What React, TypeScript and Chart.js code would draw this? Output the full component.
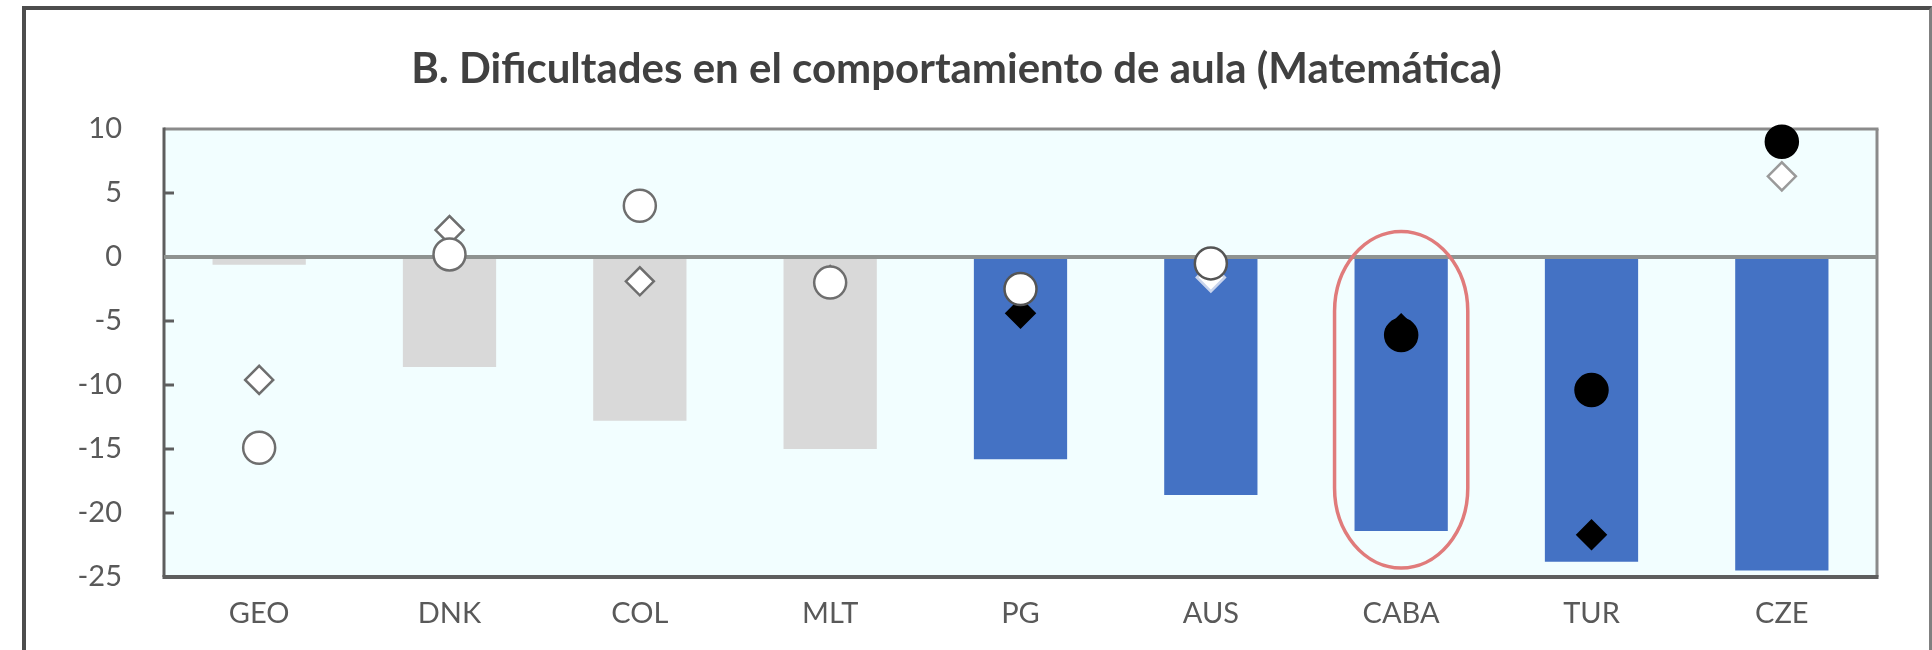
import React, { useEffect, useRef } from "react";
import { Chart, registerables } from "chart.js";

Chart.register(...registerables);

// ---------- data ----------
const categories = ["GEO", "DNK", "COL", "MLT", "PG", "AUS", "CABA", "TUR", "CZE"];
const barValues = [-0.6, -8.6, -12.8, -15.0, -15.8, -18.6, -21.4, -23.8, -24.5];
const barHighlighted = [false, false, false, false, true, true, true, true, true];
const circleValues = [-14.9, 0.2, 4.0, -2.0, -2.5, -0.5, -6.1, -10.4, 9.0];
const circleSignificant = [false, false, false, false, false, false, true, true, true];
const diamondValues = [-9.6, 2.1, -1.9, -1.8, -4.4, -1.6, -5.6, -21.7, 6.3];
const diamondSignificant = [false, false, false, false, true, false, true, true, false];
const yTickValues = [10, 5, 0, -5, -10, -15, -20, -25];
const titleText = "B. Dificultades en el comportamiento de aula (Matemática)";
const highlightCategory = "CABA";
const highlightTop = 2.0;
const highlightBottom = -24.3;

// ---------- styles ----------
const FONT = "Lato, 'Open Sans', sans-serif";
const GRAY_BAR = "#D9D9D9";
const BLUE_BAR = "#4472C4";
const PLOT_BG = "#F2FEFF";

const barColors = barHighlighted.map((h) => (h ? BLUE_BAR : GRAY_BAR));

const markerBorder = (sig: boolean, i: number, v: number) => {
  if (sig) return "#000000";
  if (barHighlighted[i] && v < 0) return "#c9d4ec";
  if (barHighlighted[i]) return "#9a9a9a";
  return "#6e6e6e";
};

const circleFill = circleSignificant.map((s) => (s ? "#000000" : "#FFFFFF"));
const circleBorder = circleSignificant.map((s, i) =>
  s ? "#000000" : barHighlighted[i] && circleValues[i] < 0 ? "#555555" : "#6e6e6e"
);
const diamondFill = diamondSignificant.map((s) => (s ? "#000000" : "#FFFFFF"));
const diamondBorder = diamondSignificant.map((s, i) => markerBorder(s, i, diamondValues[i]));

const plotDecor = {
  id: "plotDecor",
  beforeDatasetsDraw(chart: any) {
    const { ctx, chartArea: a, scales } = chart;
    const y = scales.y;
    const line = (x1: number, y1: number, x2: number, y2: number) => {
      ctx.beginPath();
      ctx.moveTo(x1, y1);
      ctx.lineTo(x2, y2);
      ctx.stroke();
    };
    ctx.save();
    ctx.fillStyle = PLOT_BG;
    ctx.fillRect(a.left, a.top, a.right - a.left, a.bottom - a.top);
    ctx.strokeStyle = "#8b8b8b";
    ctx.lineWidth = 3;
    line(a.left, a.top, a.right + 1.5, a.top);
    line(a.right, a.top, a.right, a.bottom);
    ctx.strokeStyle = "#5e5e5e";
    line(a.left, a.top - 1.5, a.left, a.bottom);
    ctx.lineWidth = 4;
    line(a.left - 1.5, a.bottom, a.right + 1.5, a.bottom);
    ctx.lineWidth = 3;
    y.ticks.forEach((t: any) => {
      if (t.value > y.min && t.value < y.max && t.value !== 0) {
        const py = y.getPixelForValue(t.value);
        line(a.left, py, a.left + 10, py);
      }
    });
    ctx.restore();
  },
  afterDatasetDraw(chart: any, args: any) {
    if (args.index !== 0) return;
    const { ctx, chartArea: a, scales } = chart;
    const py = scales.y.getPixelForValue(0);
    ctx.save();
    ctx.strokeStyle = "#8f9391";
    ctx.lineWidth = 4;
    ctx.beginPath();
    ctx.moveTo(a.left, py);
    ctx.lineTo(a.right, py);
    ctx.stroke();
    ctx.restore();
  },
  afterDatasetsDraw(chart: any) {
    const { ctx, scales } = chart;
    const x = scales.x;
    const y = scales.y;
    const idx = categories.indexOf(highlightCategory);
    const cx = x.getPixelForValue(idx);
    const catW = x.getPixelForValue(1) - x.getPixelForValue(0);
    const rx = catW * 0.35;
    const top = y.getPixelForValue(highlightTop);
    const bottom = y.getPixelForValue(highlightBottom);
    const ry = rx * 1.2;
    ctx.save();
    ctx.strokeStyle = "#E07B7B";
    ctx.lineWidth = 3.5;
    ctx.beginPath();
    ctx.ellipse(cx, top + ry, rx, ry, 0, Math.PI, 2 * Math.PI);
    ctx.lineTo(cx + rx, bottom - ry);
    ctx.ellipse(cx, bottom - ry, rx, ry, 0, 0, Math.PI);
    ctx.closePath();
    ctx.stroke();
    ctx.restore();
  },
};

export default function App() {
  const ref = useRef<HTMLCanvasElement>(null);

  useEffect(() => {
    const chart = new Chart(ref.current as HTMLCanvasElement, {
      type: "bar",
      data: {
        labels: categories,
        datasets: [
          {
            type: "bar",
            label: "Diferencia",
            data: barValues,
            backgroundColor: barColors,
            borderWidth: 0,
            barPercentage: 0.49,
            categoryPercentage: 1,
            order: 3,
          } as any,
          {
            type: "line",
            label: "Serie rombo",
            data: diamondValues,
            showLine: false,
            pointStyle: "rectRot",
            pointRadius: 14,
            pointBorderWidth: 2.5,
            pointBackgroundColor: diamondFill,
            pointBorderColor: diamondBorder,
            clip: false,
            order: 2,
          } as any,
          {
            type: "line",
            label: "Serie círculo",
            data: circleValues,
            showLine: false,
            pointStyle: "circle",
            pointRadius: 16,
            pointBorderWidth: 2.5,
            pointBackgroundColor: circleFill,
            pointBorderColor: circleBorder,
            clip: false,
            order: 1,
          } as any,
        ],
      },
      options: {
        responsive: false,
        animation: false,
        events: [],
        devicePixelRatio: 1,
        layout: { padding: { left: 36, right: 55, top: 0, bottom: 0 } },
        plugins: {
          legend: { display: false },
          tooltip: { enabled: false },
          title: {
            display: true,
            text: titleText,
            color: "#404040",
            font: { family: FONT, size: 42, weight: "bold", lineHeight: 1.2 },
            padding: { top: 44.6, bottom: 34 },
          },
        },
        scales: {
          x: {
            grid: { display: false, drawTicks: false },
            border: { display: false },
            ticks: {
              color: "#595959",
              font: { family: FONT, size: 29 },
              padding: 19,
              maxRotation: 0,
            },
            afterFit: (s: any) => {
              s.height = 73;
            },
          },
          y: {
            min: -25,
            max: 10,
            grid: { display: false, drawTicks: false },
            border: { display: false },
            afterBuildTicks: (s: any) => {
              s.ticks = yTickValues.map((v) => ({ value: v }));
            },
            ticks: {
              color: "#595959",
              font: { family: FONT, size: 29 },
              padding: 42,
              callback: (v: any) => String(v),
            },
            afterFit: (s: any) => {
              s.width = 128;
            },
          },
        },
      },
      plugins: [plotDecor],
    } as any);
    return () => chart.destroy();
  }, []);

  return (
    <div
      style={{
        position: "fixed",
        left: 0,
        top: 0,
        width: 1932,
        height: 650,
        overflow: "hidden",
        background: "#ffffff",
      }}
    >
      <canvas ref={ref} width={1932} height={650} style={{ display: "block" }} />
      <div
        style={{
          position: "absolute",
          left: 22,
          top: 6,
          width: 1910,
          height: 720,
          boxSizing: "border-box",
          borderLeft: "4px solid #4d4d4d",
          borderTop: "4px solid #4d4d4d",
          borderRight: "3px solid #808080",
          pointerEvents: "none",
        }}
      />
    </div>
  );
}
